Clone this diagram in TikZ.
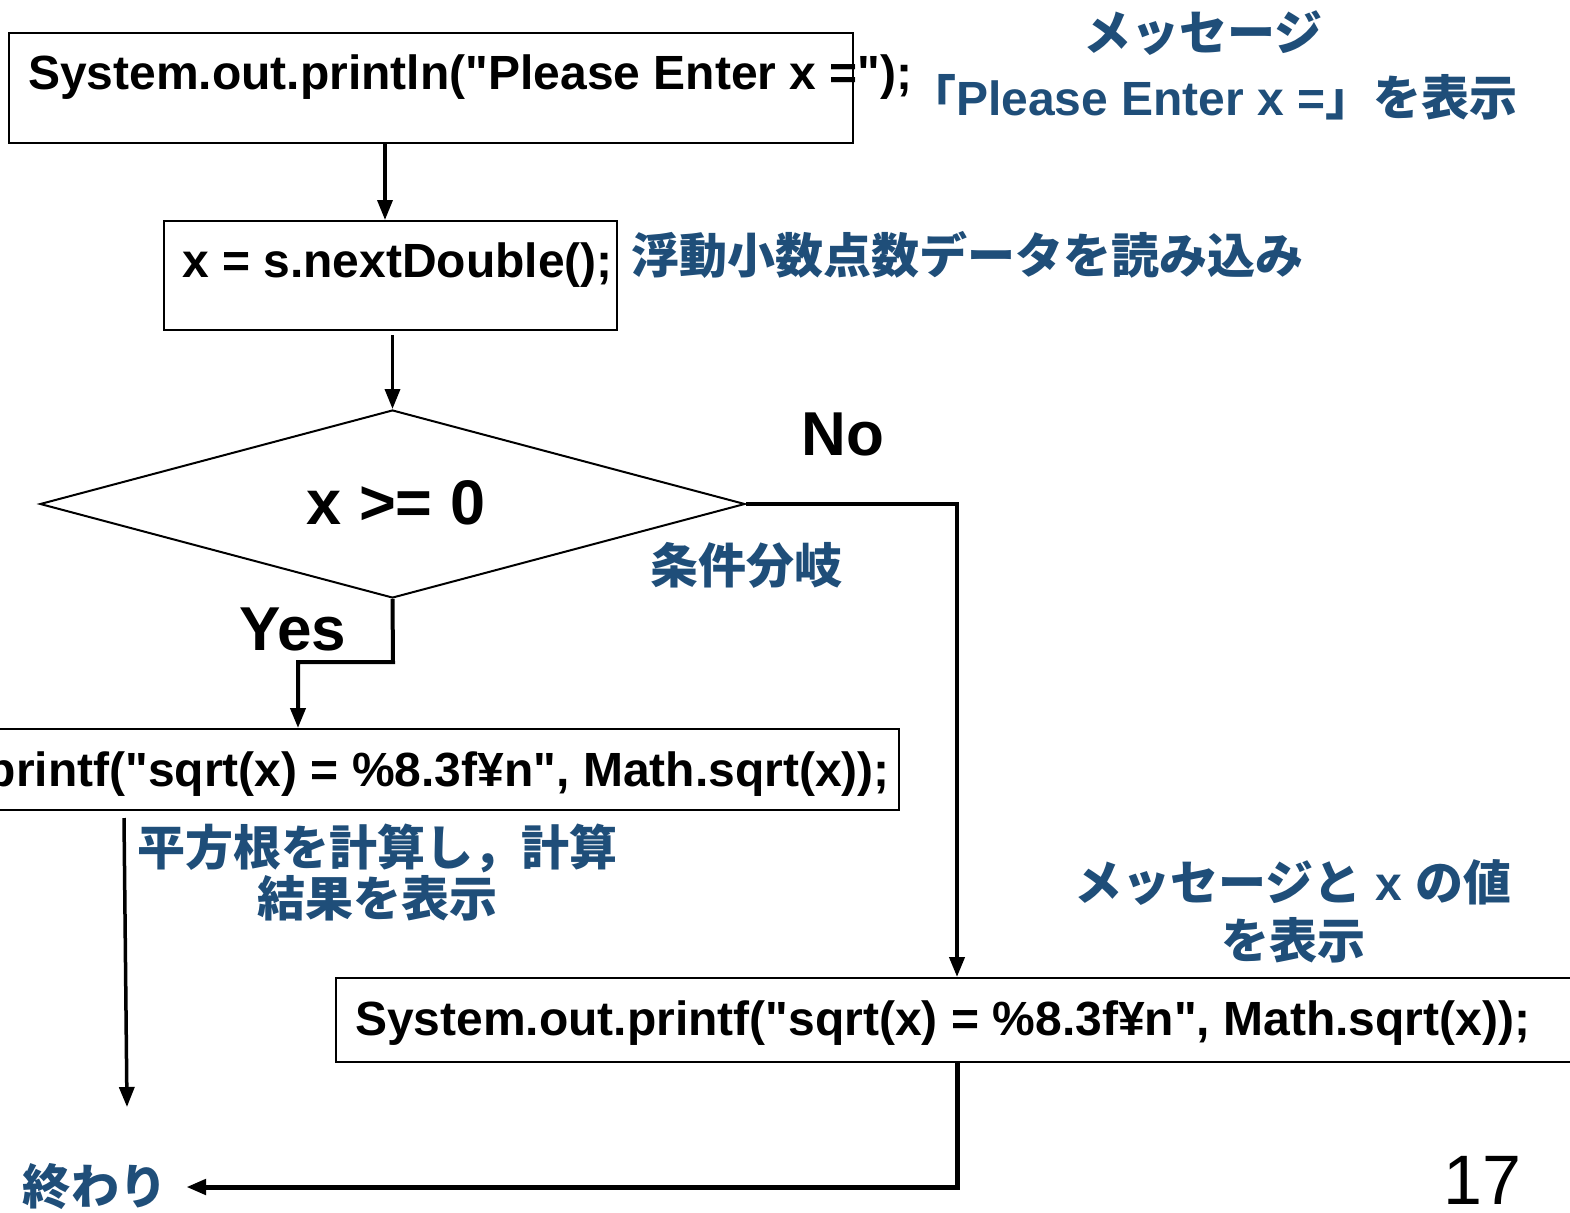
\documentclass[tikz,border=0pt]{standalone}
\usepackage{fontspec}
\setmainfont{Liberation Sans}[Ligatures=TeXOff]
\newfontfamily\cjk{Noto Sans CJK JP}
\usetikzlibrary{shapes.geometric,arrows.meta}
\definecolor{annot}{HTML}{1F4E79}
\begin{document}
\begin{tikzpicture}[x=1pt,y=-1pt,
  box/.style={draw, line width=2pt, inner sep=0pt, anchor=north west},
  code/.style={font=\fontsize{48}{56}\selectfont\bfseries, inner sep=0pt, anchor=base west},
  note/.style={font=\fontsize{48}{52}\selectfont\bfseries, text=annot, inner sep=0pt},
  cjknote/.style={font=\fontsize{48}{52}\selectfont\cjk\bfseries, text=annot, inner sep=0pt},
  big/.style={font=\fontsize{62}{70}\selectfont\bfseries, inner sep=0pt, anchor=base},
  conn/.style={line width=4pt},
  arr/.style={conn, -{Triangle[length=20pt,width=15pt]}}]
\useasboundingbox (0,0) rectangle (1570,1212);
\clip (0,0) rectangle (1570,1212);
\fill[white] (0,0) rectangle (1570,1212);

% boxes
\node[box, minimum width=844pt, minimum height=110pt] (b1) at (8,32) {};
\node[code] (t1) at (28,90) {System.out.println("Please Enter x =");};
\node[box, minimum width=453pt, minimum height=109pt] (b2) at (163,220) {};
\node[code] (t2) at (182,277) {x = s.nextDouble();};
\node[draw, diamond, line width=2pt, minimum width=705pt, minimum height=188pt, inner sep=0pt] (dia) at (392.5,504) {};
\node[big, font=\fontsize{63}{70}\selectfont\bfseries] (dt) at (396,524) {x >= 0};
\node[box, minimum width=918pt, minimum height=81pt] (b3) at (-20,728) {};
\node[code, anchor=base east] (t3) at (890,786) {printf("sqrt(x) = \%8.3f¥n", Math.sqrt(x));};
\node[box, minimum width=1260pt, minimum height=84pt] (b4) at (335,977) {};
\node[code] (t4) at (355,1035) {System.out.printf("sqrt(x) = \%8.3f¥n", Math.sqrt(x));};

% labels
\node[big] (no) at (843,455) {No};
\node[big] (yes) at (293,650) {Yes};
\node[font=\fontsize{70}{80}\selectfont, inner sep=0pt, anchor=base] (pg) at (1482,1204) {17};

% annotations
\node[cjknote] (n1) at (1203,33) {メッセージ};
\node[note] (n2) at (1213,97) {{\cjk 「}Please Enter x ={\cjk 」を表示}};
\node[cjknote] (n3) at (967,255) {浮動小数点数データを読み込み};
\node[cjknote] (n4) at (746,565) {条件分岐};
\node[cjknote] (n5a) at (377,848) {平方根を計算し，計算};
\node[cjknote] (n5b) at (377,898) {結果を表示};
\node[note] (n6a) at (1293,882) {{\cjk メッセージと} x {\cjk の値}};
\node[cjknote] (n6b) at (1293,940) {を表示};
\node[cjknote, inner xsep=19pt] (endn) at (95,1187) {終わり};

% connector points
\coordinate (b1o) at (385,142);
\coordinate (b2i) at (385,220);
\coordinate (a2s) at (0,335);
\coordinate (yb) at (393,662);
\coordinate (b3i) at (298,728);
\coordinate (b4i) at (957,977);
\coordinate (b4o) at (957,1061);
\coordinate (la1) at (124,818);
\coordinate (la2) at (127,1107);

% connectors
\draw[arr, line width=3.5pt] (b1o) -- (b2i);
\draw[arr, line width=3.5pt] (dia.north |- a2s) -- (dia.north);
\draw[arr] (dia.east) -| (b4i);
\draw[arr] (dia.south) -- (yb) -| (b3i);
\draw[arr, line width=3.5pt] (la1) -- (la2);
\draw[arr, line width=5pt] (b4o) |- (endn.east);
\end{tikzpicture}
\end{document}
